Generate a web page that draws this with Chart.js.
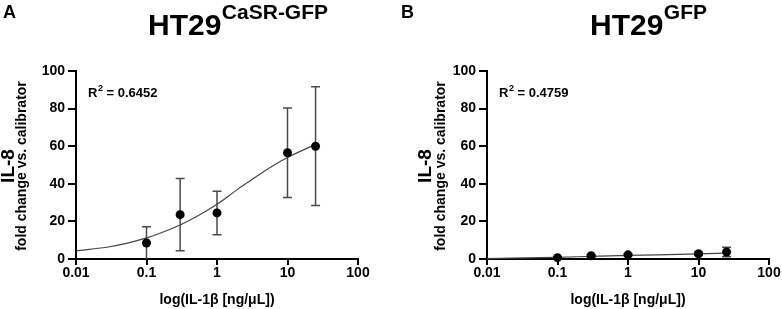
<!DOCTYPE html>
<html><head><meta charset="utf-8">
<script src="https://cdn.jsdelivr.net/npm/chart.js@4.4.1/dist/chart.umd.min.js"></script>
<style>
html,body{margin:0;padding:0;background:#fff;}
#wrap{position:relative;width:782px;height:309px;overflow:hidden;}
.panel{position:absolute;top:0;width:391px;height:309px;}
canvas{display:block;}
</style></head><body>
<div id="wrap">
<div class="panel" style="left:0"><canvas id="cA" width="391" height="309"></canvas></div>
<div class="panel" style="left:391px"><canvas id="cB" width="391" height="309"></canvas></div>
</div>
<script>
// ---- data ----
const doses = [0.1, 0.3, 1, 10, 25];
const meanA = [8.5, 23.6, 24.5, 56.5, 60];
const errA = [8.7, 19.2, 11.6, 23.8, 31.6];
const meanB = [0.7, 1.7, 2.2, 2.8, 3.7];
const errB = [0.5, 0.6, 0.5, 0.8, 2.5];
const fitXA = [0.01, 0.03, 0.05, 0.1, 0.2, 0.3, 0.5, 1, 2, 3, 5, 10, 20, 25];
const fitYA = [4.3, 6.5, 8.2, 11.2, 15.3, 18.1, 22.3, 29.1, 37.3, 41.8, 47.4, 54, 59.3, 60.8];
const fitXB = [0.01, 0.1, 0.3, 1, 10, 25];
const fitYB = [0.2, 0.9, 1.4, 1.9, 2.7, 3.2];
const xTicks = [0.01, 0.1, 1, 10, 100];
const xTickLabels = ['0.01', '0.1', '1', '10', '100'];
const yTicks = [0, 20, 40, 60, 80, 100];
const r2A = '0.6452';
const r2B = '0.4759';

const FONT = '"Liberation Sans", Arial, Helvetica, sans-serif';

const errorBars = {
  id: 'errorBars',
  beforeDatasetsDraw(chart, args, o) {
    const {ctx, scales: {x, y}} = chart;
    ctx.save();
    ctx.strokeStyle = '#4a4a4a';
    ctx.lineWidth = 1.5;
    const cap = 4.5;
    o.means.forEach((m, i) => {
      const px = x.getPixelForValue(o.xs[i]);
      const hi = m + o.errs[i], lo = m - o.errs[i];
      const pyHi = y.getPixelForValue(hi);
      const pyLo = y.getPixelForValue(Math.max(lo, 0));
      ctx.beginPath();
      ctx.moveTo(px, pyHi); ctx.lineTo(px, pyLo);
      ctx.moveTo(px - cap, pyHi); ctx.lineTo(px + cap, pyHi);
      if (lo >= 0) { ctx.moveTo(px - cap, pyLo); ctx.lineTo(px + cap, pyLo); }
      ctx.stroke();
    });
    ctx.restore();
  }
};

const deco = {
  id: 'deco',
  afterDraw(chart, args, o) {
    const ctx = chart.ctx;
    const ca = chart.chartArea;
    ctx.save();
    ctx.fillStyle = '#000';
    ctx.textBaseline = 'alphabetic';
    ctx.textAlign = 'left';
    // panel letter
    ctx.font = 'bold 18px ' + FONT;
    ctx.fillText(o.letter, o.letterX, 18);
    // title with superscript
    ctx.font = 'bold 30px ' + FONT;
    ctx.fillText(o.title, o.titleX, 35);
    const w = ctx.measureText(o.title).width;
    ctx.font = 'bold 21px ' + FONT;
    ctx.fillText(o.sup, o.titleX + w + 0.5, 18.5);
    // R squared
    let rx = ca.left + 12;
    ctx.font = 'bold 13px ' + FONT;
    ctx.fillText('R', rx, 97);
    rx += ctx.measureText('R').width;
    ctx.font = 'bold 9px ' + FONT;
    ctx.fillText('2', rx + 0.5, 91);
    rx += ctx.measureText('2').width + 0.5;
    ctx.font = 'bold 13px ' + FONT;
    ctx.fillText(' = ' + o.r2, rx, 97);
    // y-axis titles
    const cy = (ca.top + ca.bottom) / 2 + 1;
    ctx.textAlign = 'center';
    ctx.textBaseline = 'middle';
    ctx.save();
    ctx.translate(o.ilX, cy);
    ctx.rotate(-Math.PI / 2);
    ctx.font = 'bold 19px ' + FONT;
    ctx.fillText('IL-8', 0, 0);
    ctx.restore();
    ctx.save();
    ctx.translate(o.foldX, cy);
    ctx.rotate(-Math.PI / 2);
    ctx.font = 'bold 14px ' + FONT;
    ctx.fillText('fold change vs. calibrator', 0, 0);
    ctx.restore();
    ctx.restore();
  }
};

function makeChart(id, means, errs, fx, fy, yw, rp, decoOpts) {
  const axisFont = {family: FONT, size: 14, weight: 'bold'};
  return new Chart(document.getElementById(id), {
    type: 'scatter',
    data: {
      datasets: [
        {
          data: doses.map((d, i) => ({x: d, y: means[i]})),
          showLine: false,
          pointRadius: 4.5,
          pointHoverRadius: 4.5,
          backgroundColor: '#000',
          borderColor: '#000',
          borderWidth: 0,
          clip: false
        },
        {
          data: fx.map((d, i) => ({x: d, y: fy[i]})),
          showLine: true,
          pointRadius: 0,
          borderColor: '#444',
          borderWidth: 1.2,
          cubicInterpolationMode: 'monotone',
          clip: false
        }
      ]
    },
    options: {
      responsive: false,
      animation: false,
      devicePixelRatio: 1,
      layout: {padding: {top: 71, right: rp, left: 0, bottom: 0}},
      scales: {
        x: {
          type: 'logarithmic',
          position: 'bottom',
          min: 0.01, max: 100,
          afterBuildTicks: s => { s.ticks = xTicks.map(v => ({value: v, major: true})); },
          afterFit: s => { s.height = 50; },
          ticks: {
            callback: (v, i) => xTickLabels[i],
            color: '#000', font: axisFont, padding: 0,
            maxRotation: 0, minRotation: 0, autoSkip: false
          },
          grid: {drawOnChartArea: false, drawTicks: true, tickLength: 6, color: '#000', tickColor: '#000', lineWidth: 2},
          border: {color: '#000', width: 2},
          title: {display: true, text: 'log(IL-1β [ng/μL])', color: '#000', font: axisFont, padding: {top: 0, bottom: 0}}
        },
        y: {
          min: 0, max: 100,
          afterBuildTicks: s => { s.ticks = yTicks.map(v => ({value: v})); },
          afterFit: s => { s.width = yw; },
          ticks: {color: '#000', font: axisFont, padding: 3},
          grid: {drawOnChartArea: false, drawTicks: true, tickLength: 8, color: '#000', tickColor: '#000', lineWidth: 2},
          border: {color: '#000', width: 2}
        }
      },
      plugins: {
        legend: {display: false},
        tooltip: {enabled: false},
        errorBars: {xs: doses, means: means, errs: errs},
        deco: decoOpts
      }
    },
    plugins: [errorBars, deco]
  });
}

makeChart('cA', meanA, errA, fitXA, fitYA, 76, 33,
  {letter: 'A', letterX: 3, title: 'HT29', sup: 'CaSR-GFP', titleX: 148, r2: r2A, ilX: 9, foldX: 22});
makeChart('cB', meanB, errB, fitXB, fitYB, 96, 13,
  {letter: 'B', letterX: 10, title: 'HT29', sup: 'GFP', titleX: 199, r2: r2B, ilX: 35, foldX: 50});
</script>
</body></html>
